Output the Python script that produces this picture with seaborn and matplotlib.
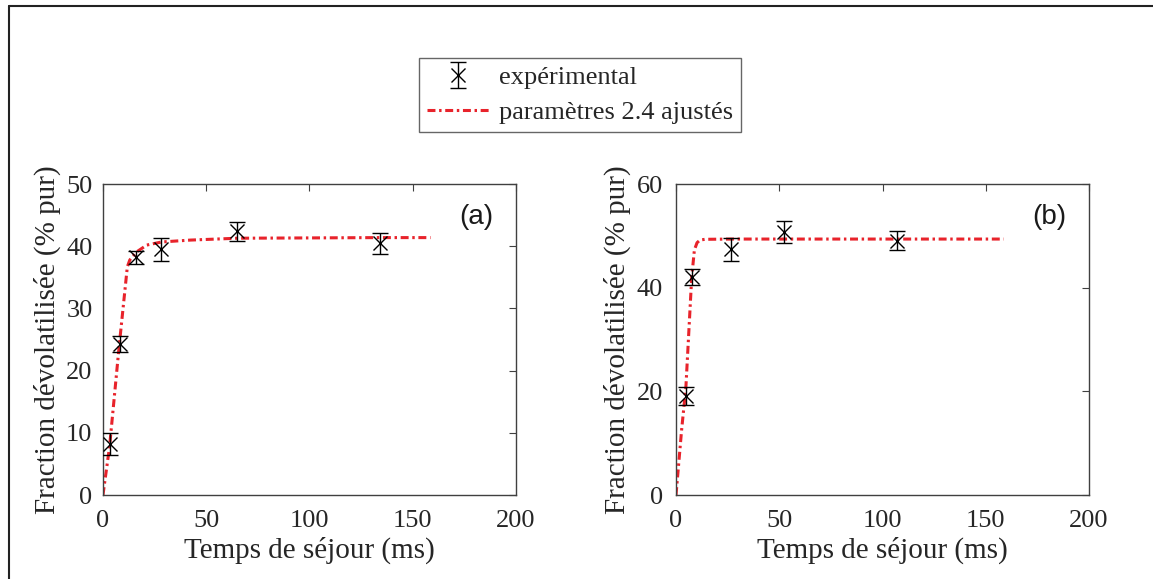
import numpy as np
import pandas as pd
import matplotlib
matplotlib.use("Agg")
import matplotlib.pyplot as plt
from matplotlib.lines import Line2D
import seaborn as sns

# experimental points (a)
t_a = [3.2, 8.4, 16.0, 28.3, 65.1, 134.0]
y_a = [8.2, 24.3, 38.2, 39.5, 42.4, 40.5]
err_a = [1.8, 1.3, 1.1, 1.9, 1.5, 1.7]
# fitted curve (a)
fit_t_a = [0, 3.2, 7.8, 11.8, 13.0, 16.3, 21.2, 28.5, 42.3, 65.0, 100.0, 134.0, 158.6]
fit_y_a = [0, 7.8, 23.8, 36.7, 37.8, 39.1, 40.2, 40.7, 41.0, 41.3, 41.35, 41.4, 41.4]

# experimental points (b)
t_b = [4.85, 7.6, 26.7, 52.5, 107.0]
y_b = [19.1, 42.1, 47.4, 50.8, 49.1]
err_b = [1.8, 1.6, 2.2, 2.1, 1.9]
# fitted curve (b)
fit_t_b = [0, 2.7, 4.8, 7.6, 8.9, 10.2, 11.6, 14.0, 27.7, 80.0, 158.7]
fit_y_b = [0, 12.5, 20.9, 42.0, 47.3, 48.7, 49.2, 49.35, 49.4, 49.4, 49.4]

sns.set_style("white")
plt.rcParams['font.family'] = ['Liberation Serif', 'DejaVu Serif']

fig = plt.figure(figsize=(11.53, 5.79), dpi=100)
ax1 = fig.add_axes([0.0893, 0.145, 0.3582, 0.537])
ax2 = fig.add_axes([0.5863, 0.145, 0.3582, 0.537])

red = '#e8232b'
panels = [
    (ax1, t_a, y_a, err_a, fit_t_a, fit_y_a, 50, 10, '(a)', 7.5),
    (ax2, t_b, y_b, err_b, fit_t_b, fit_y_b, 60, 20, '(b)', 9.5),
]

for ax, t, y, e, ft, fy, ymax, ystep, tag, ypad in panels:
    fit_df = pd.DataFrame({'t': ft, 'y': fy})
    sns.lineplot(data=fit_df, x='t', y='y', ax=ax, color=red, lw=2.2,
                 sort=False, estimator=None, zorder=2)
    ax.lines[-1].set_dashes([2.6, 1.2, 0.8, 1.2])
    eb = ax.errorbar(t, y, yerr=e, fmt='x', color='black', ms=10, mew=1,
                     elinewidth=1, capsize=6, capthick=1, zorder=3)
    ax.set_xlim(0, 200)
    ax.set_ylim(0, ymax)
    ax.set_xticks(np.arange(0, 201, 50))
    ax.set_yticks(np.arange(0, ymax + 1, ystep))
    ax.tick_params(direction='in', length=5, width=0.8, top=True, right=True,
                   labelsize=19, colors='#404040', labelcolor='#262626')
    ax.tick_params(axis='x', pad=11)
    ax.tick_params(axis='y', pad=ypad)
    for s in ax.spines.values():
        s.set_color('#404040')
        s.set_linewidth(1)
    ax.set_xlabel('Temps de séjour (ms)', fontsize=21, color='#262626', labelpad=3)
    ax.set_ylabel('Fraction dévolatilisée (% pur)', fontsize=21, color='#262626', labelpad=4)
    ax.text(0.905, 0.894, tag, transform=ax.transAxes, ha='center', va='center',
            fontsize=20, family=['Liberation Sans', 'DejaVu Sans'], color='#1a1a1a')

line_h = ax1.lines[0]
leg = fig.legend([eb, line_h], ['expérimental', 'paramètres 2.4 ajustés'],
                 loc='center', bbox_to_anchor=(0.503, 0.836), fontsize=19,
                 frameon=True, fancybox=False, edgecolor='#404040',
                 handlelength=2.4, handletextpad=0.35, borderpad=0.3,
                 labelspacing=0.45, borderaxespad=0)
leg.get_frame().set_linewidth(1)
for txt in leg.get_texts():
    txt.set_color('#262626')

# outer frame (top and left edges visible)
fig.add_artist(Line2D([0.0078, 0.0078], [0, 0.9896], transform=fig.transFigure,
                      color='#222222', lw=1.5))
fig.add_artist(Line2D([0.0078, 1.0], [0.9896, 0.9896], transform=fig.transFigure,
                      color='#222222', lw=1.5))

fig.savefig('out.png', dpi=100)
